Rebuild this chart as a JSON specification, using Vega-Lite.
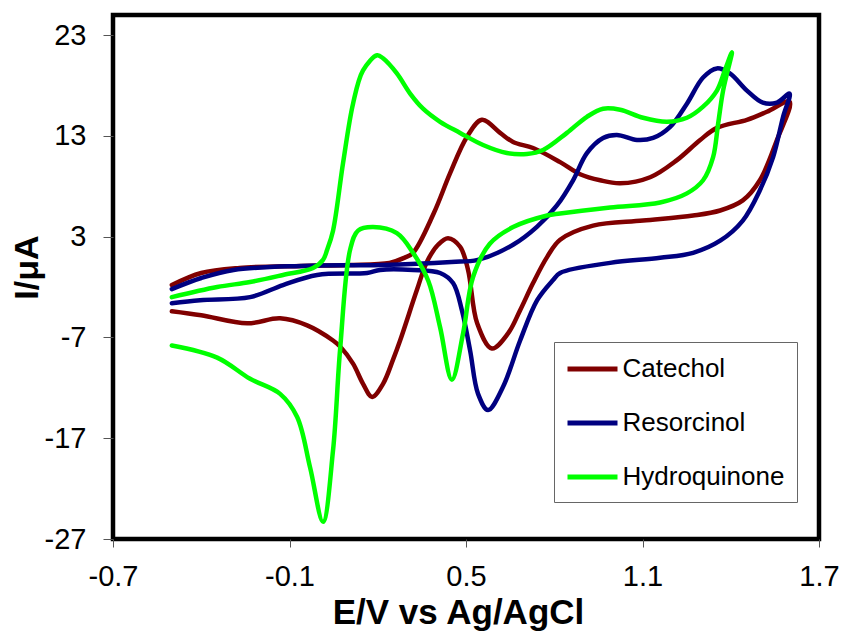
{
  "$schema": "https://vega.github.io/schema/vega-lite/v6.json",
  "width": 706,
  "height": 524,
  "autosize": "none",
  "padding": {"left": 113, "top": 15, "right": 25, "bottom": 95},
  "background": "white",
  "config": {
    "font": "Liberation Sans",
    "view": {"stroke": "black", "strokeWidth": 4.5}
  },
  "data": {
    "values": [
      {"c":"Catechol","o":1,"E":-0.5,"I":-1.8},
      {"c":"Catechol","o":2,"E":-0.4,"I":-0.6},
      {"c":"Catechol","o":3,"E":-0.27,"I":-0.1},
      {"c":"Catechol","o":4,"E":-0.06,"I":0.1},
      {"c":"Catechol","o":5,"E":0.1,"I":0.2},
      {"c":"Catechol","o":6,"E":0.24,"I":0.4},
      {"c":"Catechol","o":7,"E":0.29,"I":0.9},
      {"c":"Catechol","o":8,"E":0.32,"I":1.4},
      {"c":"Catechol","o":9,"E":0.39,"I":5.3},
      {"c":"Catechol","o":10,"E":0.446,"I":9.3},
      {"c":"Catechol","o":11,"E":0.503,"I":12.9},
      {"c":"Catechol","o":12,"E":0.554,"I":14.6},
      {"c":"Catechol","o":13,"E":0.616,"I":13.3},
      {"c":"Catechol","o":14,"E":0.66,"I":12.4},
      {"c":"Catechol","o":15,"E":0.728,"I":11.8},
      {"c":"Catechol","o":16,"E":0.82,"I":10.4},
      {"c":"Catechol","o":17,"E":0.888,"I":9.2},
      {"c":"Catechol","o":18,"E":0.956,"I":8.6},
      {"c":"Catechol","o":19,"E":1.024,"I":8.3},
      {"c":"Catechol","o":20,"E":1.126,"I":8.9},
      {"c":"Catechol","o":21,"E":1.217,"I":10.6},
      {"c":"Catechol","o":22,"E":1.296,"I":12.6},
      {"c":"Catechol","o":23,"E":1.353,"I":13.8},
      {"c":"Catechol","o":24,"E":1.455,"I":14.6},
      {"c":"Catechol","o":25,"E":1.523,"I":15.4},
      {"c":"Catechol","o":26,"E":1.6,"I":16.4},
      {"c":"Catechol","o":27,"E":1.557,"I":12.6},
      {"c":"Catechol","o":28,"E":1.499,"I":8.6},
      {"c":"Catechol","o":29,"E":1.441,"I":6.6},
      {"c":"Catechol","o":30,"E":1.364,"I":5.6},
      {"c":"Catechol","o":31,"E":1.272,"I":5.1},
      {"c":"Catechol","o":32,"E":1.102,"I":4.6},
      {"c":"Catechol","o":33,"E":0.932,"I":4.1},
      {"c":"Catechol","o":34,"E":0.82,"I":2.7},
      {"c":"Catechol","o":35,"E":0.776,"I":1.0},
      {"c":"Catechol","o":36,"E":0.728,"I":-1.6},
      {"c":"Catechol","o":37,"E":0.684,"I":-4.3},
      {"c":"Catechol","o":38,"E":0.643,"I":-6.6},
      {"c":"Catechol","o":39,"E":0.588,"I":-8.1},
      {"c":"Catechol","o":40,"E":0.538,"I":-5.6},
      {"c":"Catechol","o":41,"E":0.507,"I":-0.3},
      {"c":"Catechol","o":42,"E":0.48,"I":2.0},
      {"c":"Catechol","o":43,"E":0.439,"I":2.85},
      {"c":"Catechol","o":44,"E":0.405,"I":2.2},
      {"c":"Catechol","o":45,"E":0.367,"I":0.5},
      {"c":"Catechol","o":46,"E":0.333,"I":-2.3},
      {"c":"Catechol","o":47,"E":0.276,"I":-7.3},
      {"c":"Catechol","o":48,"E":0.252,"I":-9.2},
      {"c":"Catechol","o":49,"E":0.218,"I":-11.6},
      {"c":"Catechol","o":50,"E":0.181,"I":-12.9},
      {"c":"Catechol","o":51,"E":0.15,"I":-11.6},
      {"c":"Catechol","o":52,"E":0.116,"I":-9.6},
      {"c":"Catechol","o":53,"E":0.072,"I":-7.9},
      {"c":"Catechol","o":54,"E":0.048,"I":-7.3},
      {"c":"Catechol","o":55,"E":-0.04,"I":-5.8},
      {"c":"Catechol","o":56,"E":-0.132,"I":-5.1},
      {"c":"Catechol","o":57,"E":-0.244,"I":-5.6},
      {"c":"Catechol","o":58,"E":-0.4,"I":-4.8},
      {"c":"Catechol","o":59,"E":-0.5,"I":-4.4},

      {"c":"Resorcinol","o":1,"E":-0.5,"I":-2.2},
      {"c":"Resorcinol","o":2,"E":-0.4,"I":-1.1},
      {"c":"Resorcinol","o":3,"E":-0.29,"I":-0.3},
      {"c":"Resorcinol","o":4,"E":-0.06,"I":0.1},
      {"c":"Resorcinol","o":5,"E":0.21,"I":0.2},
      {"c":"Resorcinol","o":6,"E":0.45,"I":0.5},
      {"c":"Resorcinol","o":7,"E":0.54,"I":0.7},
      {"c":"Resorcinol","o":8,"E":0.66,"I":2.2},
      {"c":"Resorcinol","o":9,"E":0.742,"I":4.0},
      {"c":"Resorcinol","o":10,"E":0.809,"I":6.1},
      {"c":"Resorcinol","o":11,"E":0.864,"I":8.6},
      {"c":"Resorcinol","o":12,"E":0.911,"I":11.3},
      {"c":"Resorcinol","o":13,"E":0.966,"I":12.8},
      {"c":"Resorcinol","o":14,"E":1.013,"I":13.1},
      {"c":"Resorcinol","o":15,"E":1.081,"I":12.6},
      {"c":"Resorcinol","o":16,"E":1.136,"I":12.8},
      {"c":"Resorcinol","o":17,"E":1.194,"I":13.9},
      {"c":"Resorcinol","o":18,"E":1.251,"I":16.2},
      {"c":"Resorcinol","o":19,"E":1.306,"I":18.8},
      {"c":"Resorcinol","o":20,"E":1.353,"I":19.7},
      {"c":"Resorcinol","o":21,"E":1.397,"I":19.2},
      {"c":"Resorcinol","o":22,"E":1.455,"I":17.5},
      {"c":"Resorcinol","o":23,"E":1.509,"I":16.3},
      {"c":"Resorcinol","o":24,"E":1.557,"I":16.3},
      {"c":"Resorcinol","o":25,"E":1.6,"I":17.2},
      {"c":"Resorcinol","o":26,"E":1.578,"I":14.9},
      {"c":"Resorcinol","o":27,"E":1.544,"I":10.9},
      {"c":"Resorcinol","o":28,"E":1.499,"I":7.6},
      {"c":"Resorcinol","o":29,"E":1.441,"I":4.6},
      {"c":"Resorcinol","o":30,"E":1.364,"I":2.6},
      {"c":"Resorcinol","o":31,"E":1.272,"I":1.4},
      {"c":"Resorcinol","o":32,"E":1.16,"I":0.9},
      {"c":"Resorcinol","o":33,"E":0.99,"I":0.4},
      {"c":"Resorcinol","o":34,"E":0.82,"I":-0.6},
      {"c":"Resorcinol","o":35,"E":0.796,"I":-1.3},
      {"c":"Resorcinol","o":36,"E":0.742,"I":-3.3},
      {"c":"Resorcinol","o":37,"E":0.684,"I":-7.3},
      {"c":"Resorcinol","o":38,"E":0.626,"I":-11.9},
      {"c":"Resorcinol","o":39,"E":0.575,"I":-14.2},
      {"c":"Resorcinol","o":40,"E":0.541,"I":-12.6},
      {"c":"Resorcinol","o":41,"E":0.514,"I":-8.3},
      {"c":"Resorcinol","o":42,"E":0.486,"I":-4.3},
      {"c":"Resorcinol","o":43,"E":0.456,"I":-1.6},
      {"c":"Resorcinol","o":44,"E":0.412,"I":-0.6},
      {"c":"Resorcinol","o":45,"E":0.32,"I":-0.3},
      {"c":"Resorcinol","o":46,"E":0.208,"I":-0.3},
      {"c":"Resorcinol","o":47,"E":0.164,"I":-0.6},
      {"c":"Resorcinol","o":48,"E":-0.006,"I":-0.8},
      {"c":"Resorcinol","o":49,"E":-0.122,"I":-1.8},
      {"c":"Resorcinol","o":50,"E":-0.234,"I":-3.0},
      {"c":"Resorcinol","o":51,"E":-0.404,"I":-3.3},
      {"c":"Resorcinol","o":52,"E":-0.5,"I":-3.6},

      {"c":"Hydroquinone","o":1,"E":-0.5,"I":-3.0},
      {"c":"Hydroquinone","o":2,"E":-0.346,"I":-2.0},
      {"c":"Hydroquinone","o":3,"E":-0.234,"I":-1.5},
      {"c":"Hydroquinone","o":4,"E":-0.122,"I":-0.8},
      {"c":"Hydroquinone","o":5,"E":-0.02,"I":-0.1},
      {"c":"Hydroquinone","o":6,"E":0.014,"I":0.7},
      {"c":"Hydroquinone","o":7,"E":0.028,"I":1.7},
      {"c":"Hydroquinone","o":8,"E":0.048,"I":3.6},
      {"c":"Hydroquinone","o":9,"E":0.082,"I":10.3},
      {"c":"Hydroquinone","o":10,"E":0.116,"I":16.2},
      {"c":"Hydroquinone","o":11,"E":0.15,"I":19.5},
      {"c":"Hydroquinone","o":12,"E":0.198,"I":21.0},
      {"c":"Hydroquinone","o":13,"E":0.218,"I":20.7},
      {"c":"Hydroquinone","o":14,"E":0.265,"I":19.2},
      {"c":"Hydroquinone","o":15,"E":0.31,"I":17.2},
      {"c":"Hydroquinone","o":16,"E":0.354,"I":15.7},
      {"c":"Hydroquinone","o":17,"E":0.412,"I":14.4},
      {"c":"Hydroquinone","o":18,"E":0.48,"I":13.3},
      {"c":"Hydroquinone","o":19,"E":0.558,"I":12.1},
      {"c":"Hydroquinone","o":20,"E":0.639,"I":11.3},
      {"c":"Hydroquinone","o":21,"E":0.707,"I":11.2},
      {"c":"Hydroquinone","o":22,"E":0.762,"I":11.6},
      {"c":"Hydroquinone","o":23,"E":0.843,"I":13.3},
      {"c":"Hydroquinone","o":24,"E":0.911,"I":14.9},
      {"c":"Hydroquinone","o":25,"E":0.966,"I":15.7},
      {"c":"Hydroquinone","o":26,"E":1.024,"I":15.6},
      {"c":"Hydroquinone","o":27,"E":1.102,"I":14.8},
      {"c":"Hydroquinone","o":28,"E":1.183,"I":14.4},
      {"c":"Hydroquinone","o":29,"E":1.251,"I":14.8},
      {"c":"Hydroquinone","o":30,"E":1.306,"I":15.9},
      {"c":"Hydroquinone","o":31,"E":1.353,"I":17.5},
      {"c":"Hydroquinone","o":32,"E":1.38,"I":19.5},
      {"c":"Hydroquinone","o":33,"E":1.404,"I":21.3},
      {"c":"Hydroquinone","o":34,"E":1.374,"I":17.5},
      {"c":"Hydroquinone","o":35,"E":1.357,"I":14.2},
      {"c":"Hydroquinone","o":36,"E":1.34,"I":10.9},
      {"c":"Hydroquinone","o":37,"E":1.306,"I":8.6},
      {"c":"Hydroquinone","o":38,"E":1.251,"I":7.3},
      {"c":"Hydroquinone","o":39,"E":1.16,"I":6.4},
      {"c":"Hydroquinone","o":40,"E":0.99,"I":5.9},
      {"c":"Hydroquinone","o":41,"E":0.82,"I":5.3},
      {"c":"Hydroquinone","o":42,"E":0.776,"I":5.1},
      {"c":"Hydroquinone","o":43,"E":0.66,"I":3.95},
      {"c":"Hydroquinone","o":44,"E":0.581,"I":2.3},
      {"c":"Hydroquinone","o":45,"E":0.524,"I":-1.0},
      {"c":"Hydroquinone","o":46,"E":0.49,"I":-6.6},
      {"c":"Hydroquinone","o":47,"E":0.452,"I":-11.2},
      {"c":"Hydroquinone","o":48,"E":0.412,"I":-6.0},
      {"c":"Hydroquinone","o":49,"E":0.372,"I":-1.4},
      {"c":"Hydroquinone","o":50,"E":0.32,"I":1.4},
      {"c":"Hydroquinone","o":51,"E":0.265,"I":3.35},
      {"c":"Hydroquinone","o":52,"E":0.184,"I":3.95},
      {"c":"Hydroquinone","o":53,"E":0.133,"I":3.6},
      {"c":"Hydroquinone","o":54,"E":0.106,"I":1.7},
      {"c":"Hydroquinone","o":55,"E":0.072,"I":-8.2},
      {"c":"Hydroquinone","o":56,"E":0.048,"I":-18.2},
      {"c":"Hydroquinone","o":57,"E":0.014,"I":-25.3},
      {"c":"Hydroquinone","o":58,"E":-0.03,"I":-19.9},
      {"c":"Hydroquinone","o":59,"E":-0.074,"I":-14.9},
      {"c":"Hydroquinone","o":60,"E":-0.132,"I":-12.6},
      {"c":"Hydroquinone","o":61,"E":-0.234,"I":-11.1},
      {"c":"Hydroquinone","o":62,"E":-0.346,"I":-9.0},
      {"c":"Hydroquinone","o":63,"E":-0.5,"I":-7.8}
    ]
  },
  "mark": {"type": "line", "strokeWidth": 4.5, "interpolate": "catmull-rom", "strokeCap": "round", "strokeJoin": "round"},
  "encoding": {
    "x": {
      "field": "E", "type": "quantitative",
      "scale": {"domain": [-0.7, 1.7], "nice": false, "zero": false},
      "axis": {
        "title": "E/V vs Ag/AgCl",
        "values": [-0.7, -0.1, 0.5, 1.1, 1.7],
        "labelExpr": "datum.value < 0 ? '-' + format(-datum.value, '.1f') : format(datum.value, '.1f')",
        "domain": false, "grid": false,
        "tickSize": 8, "tickColor": "#555", "tickWidth": 1,
        "labelFontSize": 29, "labelColor": "black", "labelPadding": 15,
        "labelFlush": false, "labelOverlap": false,
        "titleFontSize": 35, "titleFontWeight": "bold", "titleColor": "black",
        "titleX": 345, "titleY": 84, "titleBaseline": "alphabetic", "titleAlign": "center"
      }
    },
    "y": {
      "field": "I", "type": "quantitative",
      "scale": {"domain": [-27, 25], "nice": false, "zero": false},
      "axis": {
        "title": "I/μA",
        "values": [-27, -17, -7, 3, 13, 23],
        "labelExpr": "datum.value < 0 ? '-' + format(-datum.value, 'd') : format(datum.value, 'd')",
        "domain": false, "grid": false,
        "tickSize": 10, "tickColor": "#555", "tickWidth": 1,
        "labelFontSize": 29, "labelColor": "black", "labelPadding": 17,
        "labelFlush": false, "labelOverlap": false,
        "titleFontSize": 34, "titleFontWeight": "bold", "titleColor": "black",
        "titleX": -76, "titleY": 252, "titleBaseline": "alphabetic", "titleAlign": "center", "titleAngle": 270
      }
    },
    "color": {
      "field": "c", "type": "nominal",
      "scale": {"domain": ["Catechol", "Resorcinol", "Hydroquinone"], "range": ["#800000", "#000080", "#00FF00"]},
      "legend": {
        "title": null, "orient": "none", "legendX": 441, "legendY": 327,
        "symbolType": "M-2,0H2", "symbolSize": 625, "symbolStrokeWidth": 5,
        "symbolOffset": 11.5,
        "labelFontSize": 26, "labelColor": "black", "labelOffset": 15, "labelLimit": 0,
        "padding": 12, "rowPadding": 26,
        "strokeColor": "#666", "fillColor": "white"
      }
    },
    "order": {"field": "o", "type": "quantitative"}
  }
}
